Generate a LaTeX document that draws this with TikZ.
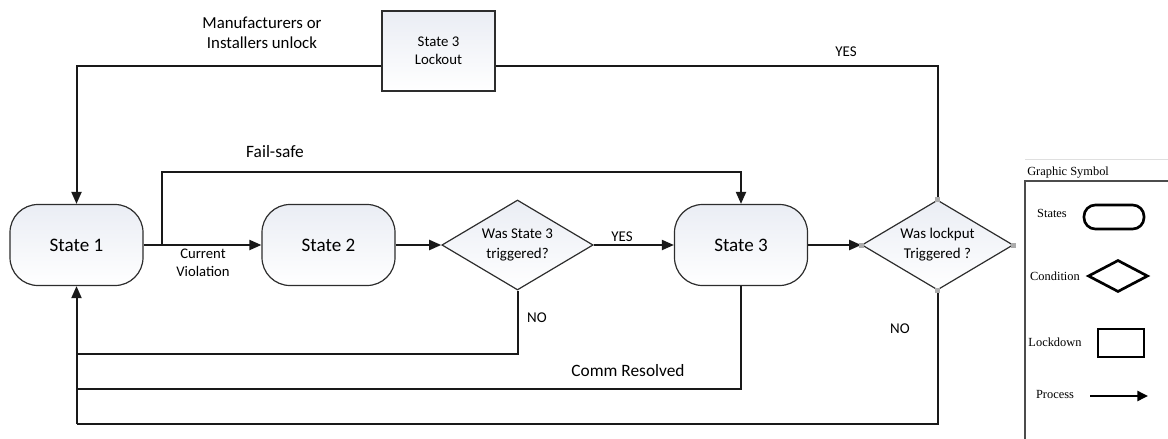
\documentclass[tikz,border=0pt]{standalone}
\usepackage{fontspec}
\setmainfont{Carlito}
\newfontfamily\legfont{Liberation Serif}
\usetikzlibrary{shapes.geometric,arrows.meta,calc}
\definecolor{shadeblue}{RGB}{234,237,244}
\definecolor{linegray}{RGB}{45,45,45}
\begin{document}
\begin{tikzpicture}[x=0.75pt,y=-0.75pt,
  conn/.style={line width=1.5pt, draw=black!90},
  arr/.style={conn, -{Triangle[length=9pt,width=7.5pt]}},
  statebox/.style={draw=linegray, line width=0.9pt, rounded corners=21pt,
    minimum width=99.75pt, minimum height=60.75pt, inner sep=0pt,
    top color=shadeblue, bottom color=white, font=\fontsize{14.3}{17}\selectfont},
  condbox/.style={diamond, shape aspect=1.68, draw=linegray, line width=0.9pt,
    inner sep=0pt, minimum width=113.5pt, minimum height=67.5pt,
    top color=shadeblue, bottom color=white, align=center,
    font=\fontsize{11.2}{15}\selectfont},
  lockbox/.style={draw=linegray, line width=0.9pt, minimum width=84.75pt,
    minimum height=60pt, inner sep=0pt, top color=shadeblue, bottom color=white,
    align=center, font=\fontsize{11.1}{13.5}\selectfont},
  lbl/.style={inner sep=0pt, align=center, font=\fontsize{11.2}{13.5}\selectfont},
  biglbl/.style={inner sep=0pt, align=center, font=\fontsize{12.6}{15}\selectfont},
  vpin/.style={fill=gray!65, minimum size=3.75pt, inner sep=0pt},
  legtext/.style={inner sep=0pt, font=\legfont\fontsize{9.3}{11}\selectfont},
  legshape/.style={draw=black, line width=2pt, inner sep=0pt}
]
\useasboundingbox (0,0) rectangle (1168,439);

% main nodes
\node[statebox] (s1) at (76.5,245) {State 1};
\node[statebox] (s2) at (328.5,245) {State 2};
\node[condbox] (d1) at (517.5,245) {Was State 3\\triggered?};
\node[statebox] (s3) at (741,245) {State 3};
\node[condbox] (d2) at (937.5,245) {Was lockput\\Triggered ?};
\node[lockbox] (lock) at (438.5,51) {State 3\\Lockout};

% helper coordinates
\coordinate (fs0) at (162,245);
\coordinate (fsl) at (162,172);
\coordinate (ty) at (0,66);
\coordinate (b1) at (0,354);
\coordinate (b2) at (0,389);
\coordinate (b3) at (0,424);

% connectors on main row
\draw[arr] (s1.east) -- (s2.west);
\draw[arr] (fs0) -- (fsl) -| (s3.north);
\draw[arr] (s2.east) -- (d1.west);
\draw[arr] (d1.east) -- (s3.west);
\draw[arr] (s3.east) -- (d2.west);

% top loop through lockout
\draw[conn] (d2.north) |- (lock.east |- ty);
\draw[arr] (lock.west |- ty) -| (s1.north);

% bottom returns
\draw[conn] (d1.south) |- (s1 |- b1);
\draw[conn] (s3.south) |- (s1 |- b2);
\draw[conn] (d2.south) |- (s1 |- b3);
\draw[arr] (s1 |- b3) -- (s1.south);

% connection pins on second diamond
\node[vpin] (pw) at (d2.west) {};
\node[vpin] (pe) at (d2.east) {};
\node[vpin] (pn) at (d2.north) {};
\node[vpin] (ps) at (d2.south) {};

% labels
\node[biglbl] (lmanu) at (262,33) {Manufacturers or\\Installers unlock};
\node[biglbl, font=\fontsize{13}{15}\selectfont] (lfail) at (275,152) {Fail-safe};
\node[lbl, font=\fontsize{11}{13.5}\selectfont] (lcur) at (203,263) {Current\\Violation};
\node[lbl] (lyes1) at (622,237) {YES};
\node[lbl] (lno1) at (537,318) {NO};
\node[biglbl, font=\fontsize{13}{15}\selectfont] (lcomm) at (628,371) {Comm Resolved};
\node[lbl] (lno2) at (900,329) {NO};
\node[lbl] (lyes2) at (846,52) {YES};

% legend
\draw[gray!25, line width=0.6pt] (1025,159) -- (1168,159);
\draw[draw=black!70, line width=0.8pt] (1168,181) -- (1025,181) -- (1025,439);
\node[legtext, anchor=west] (lgt) at (1027,173) {Graphic Symbol};
\node[legtext] (lgs) at (1052,213) {States};
\node[legshape, rounded corners=8.5pt, minimum width=45pt, minimum height=18pt] (lgss) at (1114,217) {};
\node[legtext] (lgc) at (1055,276) {Condition};
\node[legshape, diamond, shape aspect=1.875, minimum width=45pt, minimum height=24pt] (lgcs) at (1118,276) {};
\node[legtext] (lgl) at (1055,342) {Lockdown};
\node[legshape, minimum width=34.5pt, minimum height=21pt] (lgls) at (1121,343) {};
\node[legtext] (lgp) at (1055,394) {Process};
\coordinate (lpa) at (1090,396);
\coordinate (lpb) at (1148,396);
\draw[line width=1.8pt, -{Triangle[length=8pt,width=7.5pt]}] (lpa) -- (lpb);
\end{tikzpicture}
\end{document}
